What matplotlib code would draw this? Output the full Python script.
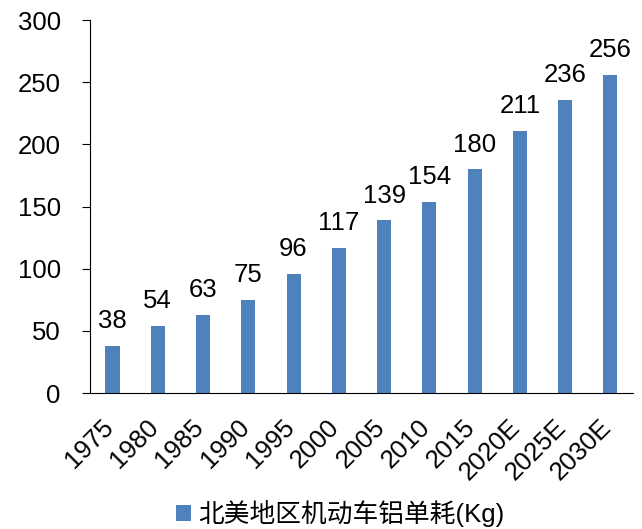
import matplotlib
matplotlib.use("Agg")
import matplotlib.pyplot as plt
import matplotlib.transforms as mtransforms
import numpy as np

plt.rcParams['font.family'] = ['Liberation Sans', 'Noto Sans CJK SC', 'DejaVu Sans']

# 数据
years = ['1975', '1980', '1985', '1990', '1995', '2000', '2005', '2010',
         '2015', '2020E', '2025E', '2030E']
aluminum_kg = [38, 54, 63, 75, 96, 117, 139, 154, 180, 211, 236, 256]
series_name = '北美地区机动车铝单耗(Kg)'

fig = plt.figure(figsize=(6.42, 5.29), dpi=100)
ax = fig.add_axes([0.140, 0.257, 0.846, 0.705])

x = np.arange(len(years))
ax.bar(x, aluminum_kg, width=0.31, color='#4F81BD', label=series_name)

# 柱顶数值
for xi, v in zip(x, aluminum_kg):
    ax.annotate(str(v), xy=(xi, v), xytext=(0, 9), textcoords='offset points',
                ha='center', va='bottom', fontsize=18.5)

ax.set_xlim(-0.5, len(years) - 0.5)
ax.set_ylim(0, 300)
ax.set_yticks(range(0, 301, 50))
ax.set_xticks(x)
ax.set_xticklabels(years, rotation=45, ha='right', va='center',
                   rotation_mode='anchor', fontsize=18.5)
ax.tick_params(axis='y', labelsize=18.5, length=6, direction='out', pad=15)
ax.tick_params(axis='x', length=0, pad=22)

# x 标签稍微左移
shift = mtransforms.ScaledTranslation(-3 / 100, 0, fig.dpi_scale_trans)
for lbl in ax.get_xticklabels():
    lbl.set_transform(lbl.get_transform() + shift)

ax.spines['top'].set_visible(False)
ax.spines['right'].set_visible(False)

fig.legend(loc='center', bbox_to_anchor=(0.530, 0.030), frameon=False,
           handlelength=0.58, handleheight=0.58, handletextpad=0.25,
           prop={'family': ['Liberation Sans', 'Noto Sans CJK SC'], 'size': 18.5})

fig.savefig('out.png', dpi=100)
